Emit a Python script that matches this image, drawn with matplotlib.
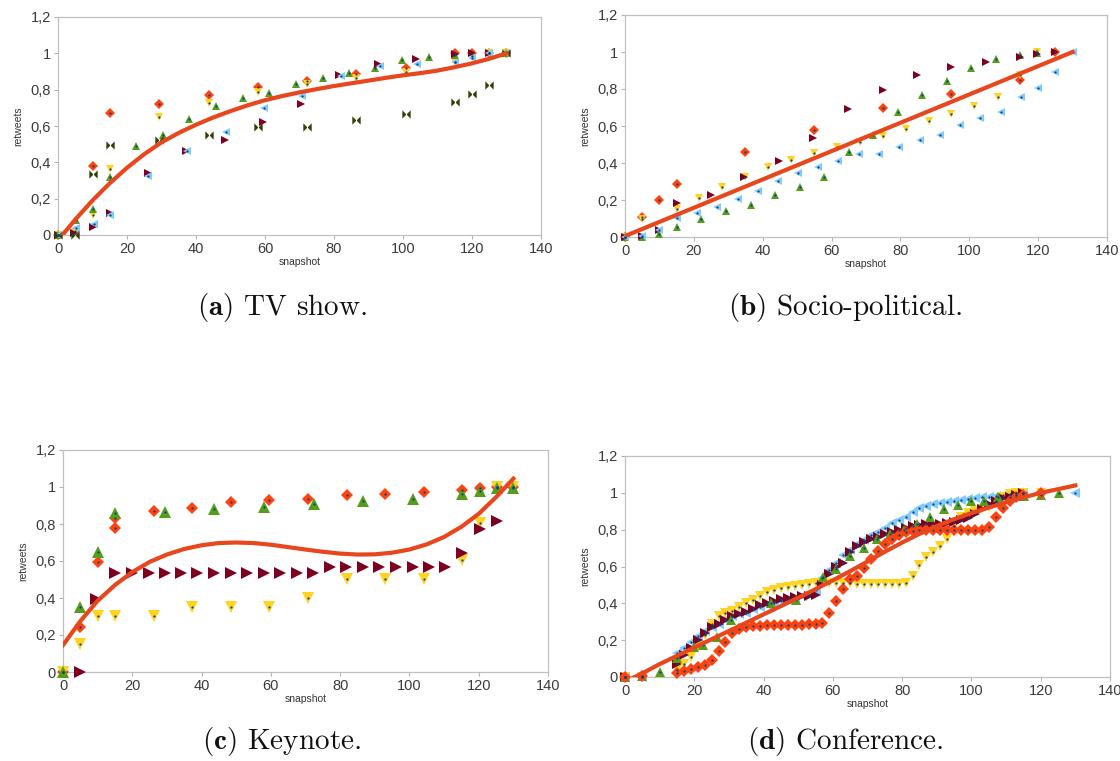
import numpy as np
import matplotlib
matplotlib.use('Agg')
import matplotlib.pyplot as plt
from matplotlib.ticker import FuncFormatter

plt.rcParams['font.family'] = ['Liberation Sans', 'DejaVu Sans']
plt.rcParams['mathtext.fontset'] = 'cm'

# ---------------- data: (a) TV show ----------------
a_dia_x = [0, 5, 10, 15, 29.4, 43.7, 58, 72.3, 86.5, 100.9, 115, 120, 125, 130]
a_dia_y = [0, 0.02, 0.378, 0.674, 0.723, 0.773, 0.817, 0.85, 0.887, 0.918, 1.0, 1.0, 1.0, 1.0]
a_down_x = [0, 5, 10, 15, 29.4, 43.7, 58, 72.3, 86.5, 100.9, 115, 120, 125, 130]
a_down_y = [0, 0.01, 0.11, 0.363, 0.652, 0.725, 0.788, 0.83, 0.865, 0.896, 0.95, 0.985, 1.0, 1.0]
a_up_x = [0, 5.1, 10, 15, 22.6, 30.5, 38, 45.7, 53.5, 61.3, 68.9, 76.7, 84.4, 91.9, 99.8, 107.4, 115, 130]
a_up_y = [0, 0.083, 0.141, 0.32, 0.49, 0.553, 0.64, 0.708, 0.752, 0.784, 0.83, 0.866, 0.893, 0.922, 0.965, 0.981, 0.992, 1.0]
a_right_x = [0, 4.6, 10, 15, 26, 37, 48.4, 59.5, 70.5, 81.5, 92.7, 103.9, 115, 120, 125]
a_right_y = [0, 0.01, 0.043, 0.119, 0.342, 0.463, 0.524, 0.622, 0.723, 0.882, 0.94, 0.969, 0.995, 1.0, 1.0]
a_left_x = [0, 5.1, 10.3, 15, 26.2, 37.4, 48.6, 59.7, 70.8, 82, 93.2, 104.2, 115, 120, 125, 130]
a_left_y = [0, 0.04, 0.061, 0.11, 0.327, 0.463, 0.566, 0.698, 0.766, 0.875, 0.929, 0.943, 0.954, 0.975, 1.0, 1.0]
a_bow_x = [0, 5, 10, 15, 29.4, 43.7, 58, 72.3, 86.5, 100.9, 115, 120, 125, 130]
a_bow_y = [0, 0.0, 0.336, 0.493, 0.522, 0.553, 0.595, 0.595, 0.633, 0.667, 0.73, 0.775, 0.826, 1.0]
a_trend_x = [0, 5, 10, 15, 20, 25, 30, 35, 40, 45, 50, 55, 60, 65, 70, 75, 80, 85, 90, 95, 100, 105, 110, 115, 120, 125, 130]
a_trend_y = [-0.03, 0.085, 0.19, 0.285, 0.37, 0.445, 0.51, 0.562, 0.607, 0.647, 0.682, 0.714, 0.742, 0.765, 0.785, 0.803, 0.82, 0.835, 0.85, 0.865, 0.879, 0.891, 0.905, 0.924, 0.945, 0.97, 1.0]

# ---------------- data: (b) Socio-political ----------------
b_dia_x = [0, 4.9, 10, 15, 34.8, 54.8, 74.8, 94.8, 114.8, 124.8]
b_dia_y = [0, 0.11, 0.2, 0.288, 0.457, 0.578, 0.70, 0.775, 0.851, 1.0]
b_right_x = [0, 5, 10, 15, 25, 34.7, 44.8, 54.6, 64.8, 74.8, 84.7, 94.8, 104.8, 114.8, 119.8, 124.8]
b_right_y = [0, 0.005, 0.04, 0.182, 0.227, 0.327, 0.41, 0.533, 0.69, 0.792, 0.878, 0.918, 0.948, 0.973, 0.988, 1.0]
b_down_x = [0, 5, 15, 21.6, 28.3, 34.8, 41.6, 48.3, 54.8, 61.5, 68.2, 74.8, 81.6, 88.3, 94.8, 101.5, 108.3, 114.8, 119.8]
b_down_y = [0, 0.097, 0.151, 0.21, 0.268, 0.327, 0.376, 0.416, 0.453, 0.484, 0.515, 0.547, 0.583, 0.626, 0.666, 0.709, 0.759, 0.876, 1.0]
b_up_x = [0, 5, 10, 15, 22.1, 29.2, 36.5, 43.5, 50.7, 57.8, 65, 72, 79.2, 86.3, 93.5, 100.6, 107.7, 114.8, 119.8]
b_up_y = [0, 0.0, 0.016, 0.056, 0.097, 0.139, 0.175, 0.228, 0.268, 0.327, 0.457, 0.55, 0.677, 0.766, 0.844, 0.914, 0.96, 0.982, 0.997]
b_left_x = [0, 5, 10, 15.2, 20.8, 26.8, 32.7, 38.5, 44.4, 50.3, 56.2, 62, 67.9, 73.7, 79.7, 85.6, 91.4, 97.4, 103.2, 109.1, 114.9, 120, 125, 130.2]
b_left_y = [0, 0.005, 0.04, 0.103, 0.13, 0.16, 0.205, 0.246, 0.304, 0.345, 0.38, 0.41, 0.448, 0.448, 0.484, 0.524, 0.552, 0.605, 0.642, 0.678, 0.757, 0.804, 0.892, 1.0]
b_trend_x = [0, 130]
b_trend_y = [0.005, 1.0]

# ---------------- data: (c) Keynote ----------------
c_dia_x = [0, 5, 10, 15, 15, 26.2, 37.3, 48.5, 59.6, 70.8, 81.9, 93, 104.2, 115.3, 120.4, 125.3, 130]
c_dia_y = [0, 0.244, 0.592, 0.781, 0.83, 0.87, 0.884, 0.918, 0.929, 0.935, 0.956, 0.96, 0.973, 0.983, 0.996, 0.998, 1.0]
c_up_x = [0, 5, 10, 15, 29.4, 43.6, 58, 72.4, 86.7, 101, 115.3, 120.4, 125.3, 130]
c_up_y = [0, 0.352, 0.65, 0.857, 0.866, 0.879, 0.893, 0.908, 0.924, 0.935, 0.962, 0.98, 0.992, 0.995]
c_right_x = [5, 9.5, 15, 19.8, 24.7, 29.3, 34, 38.8, 43.5, 48.4, 53, 58, 62.7, 67.5, 72.2,
             77.1, 81.7, 86.6, 91.3, 96.2, 100.9, 105.6, 110.4, 115.3, 120.4, 125.3]
c_right_y = [0, 0.397, 0.536, 0.536, 0.536, 0.536, 0.536, 0.536, 0.536, 0.536, 0.536, 0.536, 0.536, 0.536, 0.536,
             0.568, 0.568, 0.568, 0.568, 0.568, 0.568, 0.568, 0.568, 0.644, 0.774, 0.817]
c_down_x = [0, 5, 10, 15, 26.2, 37.3, 48.5, 59.6, 70.8, 81.9, 93, 104.2, 115.3, 120.4, 125.3, 130]
c_down_y = [0, 0.153, 0.303, 0.303, 0.303, 0.352, 0.352, 0.352, 0.402, 0.502, 0.502, 0.502, 0.604, 0.803, 1.0, 1.0]
c_trend_x = [0, 5, 10, 15, 20, 25, 30, 35, 40, 45, 50, 55, 60, 65, 70, 75, 80, 85, 90, 95, 100, 105, 110, 115, 120, 125, 130]
c_trend_y = [0.145, 0.275, 0.385, 0.47, 0.54, 0.595, 0.635, 0.665, 0.685, 0.697, 0.70, 0.697, 0.688, 0.675, 0.662, 0.65, 0.64, 0.635, 0.636, 0.645, 0.662, 0.69, 0.73, 0.785, 0.855, 0.945, 1.045]

# ---------------- data: (d) Conference ----------------
d_x = list(range(15, 116, 2))
d_dia_y = [0.02, 0.03, 0.045, 0.055, 0.065, 0.09, 0.14, 0.19, 0.24, 0.26,
           0.27, 0.275, 0.278, 0.28, 0.28, 0.285, 0.285, 0.285, 0.285, 0.288,
           0.29, 0.295, 0.35, 0.41, 0.48, 0.53, 0.55, 0.59, 0.64, 0.685,
           0.72, 0.75, 0.77, 0.785, 0.795, 0.80, 0.80, 0.80, 0.80, 0.80,
           0.80, 0.80, 0.80, 0.80, 0.80, 0.815, 0.87, 0.92, 0.955, 0.975, 0.99]
d_down_y = [0.04, 0.07, 0.11, 0.17, 0.23, 0.29, 0.33, 0.35, 0.36, 0.38,
            0.40, 0.42, 0.44, 0.46, 0.475, 0.485, 0.49, 0.495, 0.50, 0.505,
            0.51, 0.51, 0.51, 0.51, 0.51, 0.51, 0.505, 0.505, 0.505, 0.505,
            0.505, 0.505, 0.505, 0.51, 0.55, 0.61, 0.65, 0.68, 0.71, 0.75,
            0.82, 0.87, 0.89, 0.90, 0.91, 0.925, 0.95, 0.975, 0.995, 1.0, 1.0]
d_left_y = [0.13, 0.16, 0.19, 0.22, 0.25, 0.27, 0.29, 0.31, 0.33, 0.34,
            0.35, 0.37, 0.38, 0.39, 0.40, 0.41, 0.42, 0.43, 0.44, 0.45,
            0.47, 0.54, 0.58, 0.62, 0.66, 0.69, 0.72, 0.745, 0.77, 0.79,
            0.81, 0.835, 0.855, 0.87, 0.895, 0.915, 0.93, 0.94, 0.945, 0.95,
            0.955, 0.96, 0.965, 0.97, 0.975, 0.98, 0.985, 0.99, 0.995, 1.0, 1.0]
d_right_y = [0.07, 0.12, 0.16, 0.20, 0.24, 0.27, 0.29, 0.31, 0.33, 0.34,
             0.355, 0.37, 0.39, 0.40, 0.415, 0.425, 0.43, 0.435, 0.44, 0.44,
             0.445, 0.50, 0.56, 0.60, 0.62, 0.68, 0.71, 0.735, 0.75, 0.76,
             0.775, 0.79, 0.80, 0.81, 0.82, 0.825, 0.83, 0.83, 0.83, 0.835,
             0.84, 0.85, 0.865, 0.885, 0.91, 0.94, 0.955, 0.97, 0.98, 0.99, 1.0]
d_dia_end_x = [0, 5, 120]
d_dia_end_y = [0, 0.005, 1.0]
d_down_end_x = [0, 5, 120]
d_down_end_y = [0, 0.0, 1.0]
d_left_end_x = [0, 5, 130]
d_left_end_y = [0, 0.0, 1.0]
d_right_end_x = [0]
d_right_end_y = [0]
d_up_x = [0, 5, 10, 15, 19.8, 22.5, 26.7, 30.5, 42, 49.5, 57.2, 61, 65, 69, 72.8, 76.6, 80.5, 84.2, 88, 92, 96, 99.8, 103.5, 107.6, 115.2, 120.2, 125.3]
d_up_y = [0, 0.005, 0.025, 0.105, 0.165, 0.175, 0.218, 0.31, 0.403, 0.42, 0.545, 0.585, 0.655, 0.703, 0.747, 0.776, 0.80, 0.83, 0.868, 0.91, 0.932, 0.958, 0.958, 0.976, 0.984, 0.99, 0.997]
d_trend_x = [0, 5, 10, 15, 20, 25, 30, 35, 40, 45, 50, 55, 60, 65, 70, 75, 80, 85, 90, 95, 100, 105, 110, 115, 120, 125, 130]
d_trend_y = [-0.025, 0.02, 0.07, 0.115, 0.16, 0.205, 0.25, 0.295, 0.34, 0.385, 0.43, 0.477, 0.525, 0.575, 0.627, 0.68, 0.73, 0.777, 0.82, 0.857, 0.89, 0.92, 0.948, 0.975, 1.0, 1.02, 1.04]

captions = ['TV show.', 'Socio-political.', 'Keynote.', 'Conference.']
letters = ['(a)', '(b)', '(c)', '(d)']
y_ticks = [0, 0.2, 0.4, 0.6, 0.8, 1.0, 1.2]
x_ticks = [0, 20, 40, 60, 80, 100, 120, 140]

# ---------------- styles ----------------
C_OR = '#ff420e'
C_YE = '#ffd320'
C_GR = '#579d1c'
C_MA = '#7e0021'
C_LB = '#83caff'
C_OL = '#314004'
C_DB = '#004586'
C_TR = '#e8471e'
BOW = [(-1, -1), (1, 1), (1, -1), (-1, 1), (-1, -1)]

fig = plt.figure(figsize=(11.2, 7.61), dpi=100)
rects = [
    [58 / 1120, 1 - 235 / 761, (541 - 58) / 1120, (235 - 17) / 761],
    [625 / 1120, 1 - 237 / 761, (1107 - 625) / 1120, (237 - 15) / 761],
    [63 / 1120, 1 - 672 / 761, (548 - 63) / 1120, (672 - 450) / 761],
    [625 / 1120, 1 - 677 / 761, (1110 - 625) / 1120, (677 - 456) / 761],
]
axes = [fig.add_axes(r) for r in rects]

fmt = FuncFormatter(lambda v, p: ('%g' % round(v, 2)).replace('.', ','))


def setup(ax):
    ax.set_xlim(0, 140)
    ax.set_ylim(0, 1.2)
    ax.set_xticks(x_ticks)
    ax.set_yticks(y_ticks)
    ax.yaxis.set_major_formatter(fmt)
    for s in ax.spines.values():
        s.set_color('#c0c0c0')
        s.set_linewidth(0.9)
    ax.tick_params(colors='#b3b3b3', labelcolor='#3a3a3a', labelsize=10.5,
                   length=3, width=0.8, direction='out', pad=2)
    ax.set_xlabel('snapshot', fontsize=7.5, color='#333333', labelpad=1)
    ax.set_ylabel('retweets', fontsize=7.5, color='#333333', labelpad=5)


def scat(ax, x, y, marker, color, ms, dot=True, z=3):
    ax.plot(x, y, linestyle='none', marker=marker, color=color, markersize=ms,
            markeredgewidth=0, zorder=z, clip_on=False)
    if dot:
        ax.plot(x, y, linestyle='none', marker='o', color=C_DB, markersize=1.6,
                markeredgewidth=0, zorder=z + 0.5, clip_on=False)


# (a)
ax = axes[0]
setup(ax)
ms = 6
scat(ax, a_dia_x, a_dia_y, 'D', C_OR, ms - 1)
scat(ax, a_down_x, a_down_y, 'v', C_YE, ms)
scat(ax, a_up_x, a_up_y, '^', C_GR, ms)
scat(ax, a_right_x, a_right_y, '>', C_MA, ms, dot=False)
scat(ax, a_left_x, a_left_y, '<', C_LB, ms)
scat(ax, a_bow_x, a_bow_y, BOW, C_OL, ms, dot=False)
ax.plot(a_trend_x, a_trend_y, color=C_TR, lw=3, zorder=10, solid_joinstyle='round')

# (b)
ax = axes[1]
setup(ax)
scat(ax, b_dia_x, b_dia_y, 'D', C_OR, ms - 1)
scat(ax, b_down_x, b_down_y, 'v', C_YE, ms)
scat(ax, b_up_x, b_up_y, '^', C_GR, ms)
scat(ax, b_right_x, b_right_y, '>', C_MA, ms, dot=False)
scat(ax, b_left_x, b_left_y, '<', C_LB, ms)
ax.plot(b_trend_x, b_trend_y, color=C_TR, lw=3, zorder=10)

# (c)
ax = axes[2]
setup(ax)
ms = 8
scat(ax, c_dia_x, c_dia_y, 'D', C_OR, ms - 1.5)
scat(ax, c_down_x, c_down_y, 'v', C_YE, ms)
scat(ax, c_up_x, c_up_y, '^', C_GR, ms)
scat(ax, c_right_x, c_right_y, '>', C_MA, ms, dot=False)
ax.plot(c_trend_x, c_trend_y, color=C_TR, lw=3, zorder=10, solid_joinstyle='round')

# (d)
ax = axes[3]
setup(ax)
ms = 7.5
scat(ax, d_left_end_x + d_x, d_left_end_y + d_left_y, '<', C_LB, ms)
scat(ax, d_down_end_x + d_x, d_down_end_y + d_down_y, 'v', C_YE, ms)
scat(ax, d_right_end_x + d_x, d_right_end_y + d_right_y, '>', C_MA, ms)
scat(ax, d_up_x, d_up_y, '^', C_GR, ms)
scat(ax, d_dia_end_x + d_x, d_dia_end_y + d_dia_y, 'D', C_OR, ms - 1.5)
ax.plot(d_trend_x, d_trend_y, color=C_TR, lw=3, zorder=10, solid_joinstyle='round')

# captions
cap_pos = [(282 / 1120, 1 - 307 / 761), (845 / 1120, 1 - 307 / 761),
           (282 / 1120, 1 - 742 / 761), (845 / 1120, 1 - 742 / 761)]
for (cx, cy), let, cap in zip(cap_pos, letters, captions):
    fig.text(cx, cy, r'$\mathbf{' + let + r'}$ ' + cap, ha='center', va='center',
             fontsize=21, family='cmr10', color='#111111')

fig.savefig('out.png', dpi=100)
